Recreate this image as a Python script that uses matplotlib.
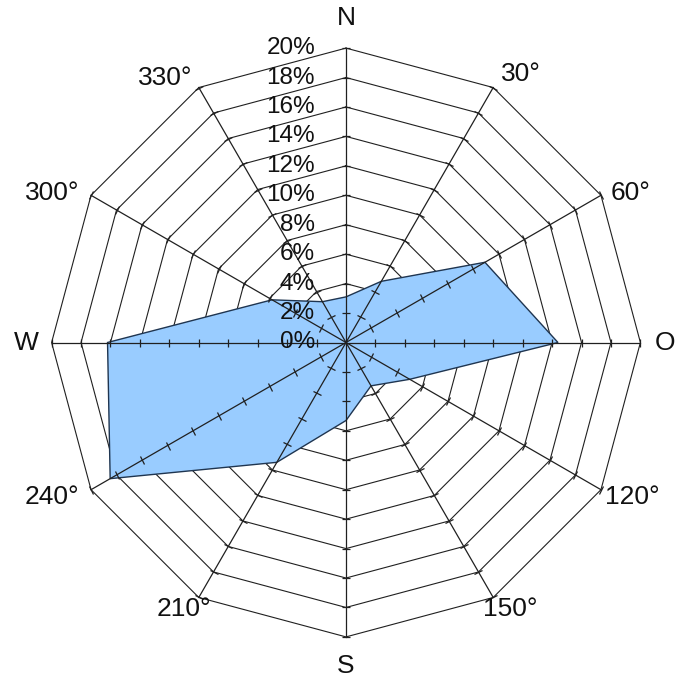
import numpy as np
import matplotlib
matplotlib.use("Agg")
import matplotlib.pyplot as plt
from matplotlib.markers import MarkerStyle
from matplotlib.transforms import Affine2D

plt.rcParams['font.family'] = ['Liberation Sans', 'DejaVu Sans']

# ---- data ----
directions_deg = [0, 30, 60, 90, 120, 150, 180, 210, 240, 270, 300, 330]
direction_labels = ["N", "30°", "60°", "O", "120°", "150°", "S", "210°", "240°", "W", "300°", "330°"]
frequency_pct = [3.1, 4.8, 10.9, 14.4, 5.0, 3.4, 5.3, 9.4, 18.5, 16.2, 5.8, 3.2]
ring_values = [2, 4, 6, 8, 10, 12, 14, 16, 18, 20]
radial_tick_values = [0, 2, 4, 6, 8, 10, 12, 14, 16, 18, 20]
radial_tick_labels = [f"{v}%" for v in radial_tick_values]

# ---- style ----
label_offsets_px = [(0, -30), (28, -14), (30, -2), (25, 0), (31, 7), (17, 12),
                    (0, 29), (-15, 12), (-39, 7), (-25, 0), (-39, -2), (-34, -10)]
fill_color = "#99CCFF"
edge_color = "#1F3550"
grid_color = "#202020"

W, H = 677, 680
fig = plt.figure(figsize=(W / 100, H / 100), dpi=100)
cx, cy, R = 346, 342.5, 294.4
ax = fig.add_axes([(cx - R) / W, (H - cy - R) / H, 2 * R / W, 2 * R / H], projection='polar')
ax.set_theta_zero_location('N')
ax.set_theta_direction(-1)
ax.set_ylim(0, 20)
ax.grid(False)
ax.set_xticks([])
ax.set_yticks([])
ax.spines['polar'].set_visible(False)
ax.set_facecolor('white')

theta = np.deg2rad(directions_deg)
theta_closed = np.append(theta, theta[0])

# polygonal rings
for r in ring_values:
    ax.plot(theta_closed, [r] * len(theta_closed), color=grid_color, lw=0.8,
            zorder=1, clip_on=False)

# data polygon
vals_closed = np.append(frequency_pct, frequency_pct[0])
ax.fill(theta_closed, vals_closed, facecolor=fill_color, edgecolor=edge_color,
        lw=1.0, zorder=2)

# spokes with tick marks
for t, d in zip(theta, directions_deg):
    ax.plot([t, t], [0, 20], color=grid_color, lw=0.9, zorder=3, clip_on=False)
    ms = MarkerStyle('_', transform=Affine2D().rotate_deg(-d))
    ax.plot([t] * len(ring_values), ring_values, linestyle='none', marker=ms,
            markersize=6, markeredgewidth=0.9, color=grid_color, zorder=3,
            clip_on=False)

# radial labels
for v, lab in zip(radial_tick_values, radial_tick_labels):
    ax.annotate(lab, xy=(0, v), xytext=(-31, 0), textcoords='offset pixels',
                ha='right', va='center', fontsize=17.5, color='#111111',
                zorder=4, annotation_clip=False)

# direction labels
for t, lab, (dx, dy) in zip(theta, direction_labels, label_offsets_px):
    ax.annotate(lab, xy=(t, 20), xytext=(dx, -dy), textcoords='offset pixels',
                ha='center', va='center', fontsize=19, color='#111111',
                annotation_clip=False)

fig.savefig("out.png", dpi=100, facecolor='white')
